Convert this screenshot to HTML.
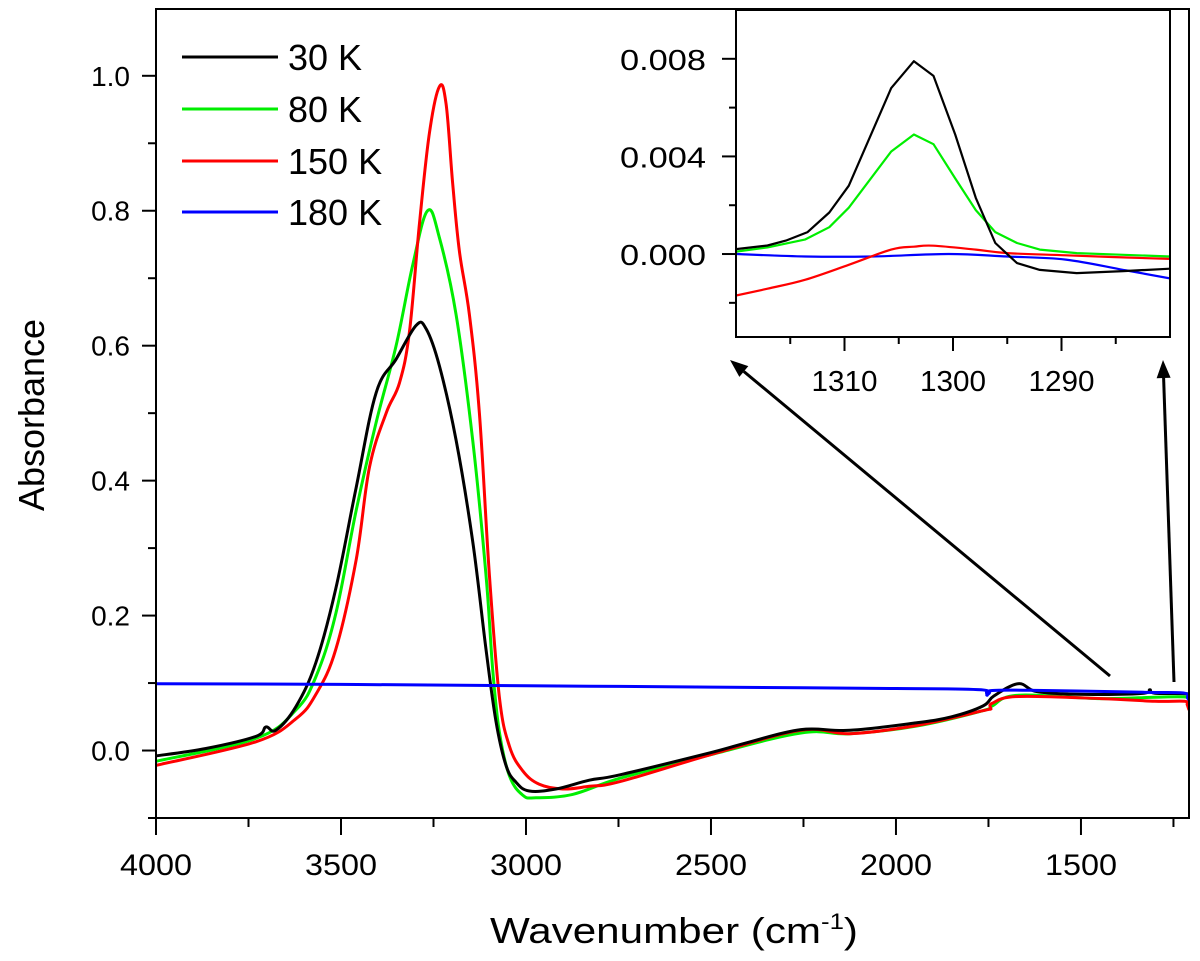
<!DOCTYPE html>
<html><head><meta charset="utf-8"><style>
html,body{margin:0;padding:0;background:#fff;}
svg{display:block;font-family:"Liberation Sans",Arial,sans-serif;}
</style></head><body>
<svg id="chart" width="1200" height="961" viewBox="0 0 1200 961" xmlns="http://www.w3.org/2000/svg">
<g id="main"></g>
<g id="inset"></g>
<g id="arrows"></g>
</svg>
<script>
// ---- Main chart data ----
const w30 = [4000,3865,3730,3703,3676,3622,3568,3514,3459,3405,3351,3297,3270,3234,3189,3144,3108,3081,3054,3027,2991,2919,2829,2746,2500,2400,2257,2124,1946,1850,1765,1735,1670,1625,1550,1446,1330,1314,1300,1213,1208];
const a30 = [-0.008,0.003,0.021,0.035,0.030,0.065,0.13,0.24,0.39,0.53,0.58,0.63,0.625,0.57,0.46,0.31,0.15,0.043,-0.022,-0.047,-0.06,-0.057,-0.044,-0.036,-0.003,0.012,0.031,0.030,0.041,0.05,0.066,0.081,0.099,0.088,0.084,0.083,0.085,0.09,0.085,0.084,0.078];
const w80 = [4000,3730,3622,3568,3514,3459,3405,3351,3306,3266,3234,3189,3144,3108,3090,3072,3045,3009,2973,2874,2746,2500,2257,2124,1946,1765,1740,1670,1446,1300,1213,1208];
const a80 = [-0.016,0.018,0.06,0.109,0.203,0.356,0.486,0.60,0.72,0.80,0.76,0.646,0.46,0.26,0.12,0.028,-0.037,-0.066,-0.07,-0.065,-0.041,-0.006,0.026,0.025,0.036,0.059,0.066,0.082,0.077,0.079,0.079,0.07];
const w150 = [4000,3730,3622,3568,3514,3459,3423,3378,3342,3315,3288,3261,3234,3216,3198,3180,3153,3126,3099,3072,3045,3009,2964,2901,2829,2746,2500,2257,2124,1946,1765,1745,1740,1670,1446,1300,1220,1213,1208];
const a150 = [-0.022,0.013,0.047,0.083,0.15,0.283,0.42,0.50,0.545,0.62,0.78,0.915,0.984,0.958,0.84,0.74,0.646,0.50,0.26,0.08,0.007,-0.03,-0.05,-0.057,-0.053,-0.046,-0.006,0.030,0.025,0.037,0.059,0.062,0.07,0.08,0.077,0.073,0.073,0.068,0.06];
const w180 = [4000,3500,3000,2746,2500,2000,1770,1754,1740,1600,1400,1300,1220,1212,1208];
const a180 = [0.099,0.098,0.096,0.095,0.094,0.092,0.090,0.082,0.089,0.089,0.087,0.086,0.085,0.078,0.075];
const xTicks = [4000,3500,3000,2500,2000,1500];
const xTickLabels = ["4000","3500","3000","2500","2000","1500"];
const yTicks = [0.0,0.2,0.4,0.6,0.8,1.0];
const yTickLabels = ["0.0","0.2","0.4","0.6","0.8","1.0"];
const legendLabels = ["30 K","80 K","150 K","180 K"];
const seriesColors = ["#000000","#00ee00","#ff0000","#0000ff"];

// ---- Inset data ----
const iw30 = [1320,1317.1,1315.4,1313.4,1311.4,1309.6,1305.7,1303.6,1301.8,1299.8,1297.9,1296.1,1294.1,1292,1288.6,1284.3,1280];
const ia30 = [0.0002,0.00035,0.00055,0.0009,0.0017,0.0028,0.0068,0.0079,0.0073,0.0049,0.0023,0.00045,-0.00037,-0.00065,-0.00078,-0.0007,-0.0006];
const iw80 = [1320,1317.1,1313.6,1311.4,1309.6,1305.7,1303.6,1301.8,1299.8,1297.9,1296.1,1294.1,1292,1288.6,1284.3,1280];
const ia80 = [0.0001,0.00027,0.0006,0.0011,0.0019,0.0042,0.0049,0.0045,0.0031,0.0018,0.0009,0.00045,0.00018,0.00004,-0.00003,-0.0001];
const iw150 = [1320,1317.1,1313.6,1309.6,1305.7,1303.6,1301.8,1297.9,1295,1289.6,1284.3,1280];
const ia150 = [-0.0017,-0.00142,-0.00105,-0.00044,0.00018,0.0003,0.00034,0.00018,0.00004,-0.00005,-0.00014,-0.0002];
const iw180 = [1320,1313.6,1307.5,1300.4,1295,1289.6,1284.3,1280];
const ia180 = [0,-0.0001,-0.0001,0,-0.0001,-0.00023,-0.00065,-0.001];
const ixTicks = [1310,1300,1290];
const ixTickLabels = ["1310","1300","1290"];
const iyTicks = [0.000,0.004,0.008];
const iyTickLabels = ["0.000","0.004","0.008"];

const NS="http://www.w3.org/2000/svg";
function mk(parent,tag,attrs){const e=document.createElementNS(NS,tag);for(const k in attrs)e.setAttribute(k,attrs[k]);parent.appendChild(e);return e;}

function smoothPath(pts,straight){
  if(straight){return pts.map((p,i)=>(i?'L':'M')+p[0].toFixed(1)+','+p[1].toFixed(1)).join('');}
  let d='M'+pts[0][0].toFixed(1)+','+pts[0][1].toFixed(1);
  for(let i=0;i<pts.length-1;i++){
    const p0=pts[i-1]||pts[i],p1=pts[i],p2=pts[i+1],p3=pts[i+2]||p2;
    const t=0.18;
    const c1=[p1[0]+(p2[0]-p0[0])*t,p1[1]+(p2[1]-p0[1])*t];
    const c2=[p2[0]-(p3[0]-p1[0])*t,p2[1]-(p3[1]-p1[1])*t];
    d+='C'+c1[0].toFixed(1)+','+c1[1].toFixed(1)+' '+c2[0].toFixed(1)+','+c2[1].toFixed(1)+' '+p2[0].toFixed(1)+','+p2[1].toFixed(1);
  }
  return d;
}

// main axes
const L=156,R=1189,T=9,B=818;
const X0=4000,X1=1208,Y0=-0.1,Y1=1.099;
const sx=w=>L+(X0-w)/(X0-X1)*(R-L);
const sy=v=>B-(v-Y0)/(Y1-Y0)*(B-T);
const main=document.getElementById('main');

function series(g,ws,as,fx,fy,color,width,name,straight){
  const pts=ws.map((w,i)=>[fx(w),fy(as[i])]);
  const p=mk(g,'path',{d:smoothPath(pts,straight),fill:'none',stroke:color,'stroke-width':width,'stroke-linejoin':'round'});
  
  
  return p;
}
const mainClip=mk(main,'clipPath',{id:'mc'});mk(mainClip,'rect',{x:L,y:T,width:R-L,height:B-T});
const mg=mk(main,'g',{'clip-path':'url(#mc)'});
series(mg,w80,a80,sx,sy,seriesColors[1],3,'series-80k');
series(mg,w150,a150,sx,sy,seriesColors[2],3,'series-150k');
series(mg,w30,a30,sx,sy,seriesColors[0],3,'series-30k');
series(mg,w180,a180,sx,sy,seriesColors[3],3,'series-180k');

const frame=mk(main,'rect',{x:L,y:T,width:R-L,height:B-T,fill:'none',stroke:'#000','stroke-width':2});



for(let w=4000;w>=1250;w-=250){
  const major=(w%500===0);
  const t=mk(main,'line',{x1:sx(w),x2:sx(w),y1:B,y2:B+(major?17:9),stroke:'#000','stroke-width':2});
  
  
}
xTicks.forEach((w,i)=>{
  const t=mk(main,'text',{x:sx(w),y:875,'text-anchor':'middle','font-size':30,textLength:72,lengthAdjust:'spacingAndGlyphs'});
  t.textContent=xTickLabels[i];
  
  
});
for(let k=-1;k<=10;k++){
  const v=k/10;const major=(k%2===0);
  const t=mk(main,'line',{x1:L,x2:L-(major?14:8),y1:sy(v),y2:sy(v),stroke:'#000','stroke-width':2});
  
  
}
yTicks.forEach((v,i)=>{
  const t=mk(main,'text',{x:130,y:sy(v)+10,'text-anchor':'end','font-size':28});
  t.textContent=yTickLabels[i];
  
  
});
const xt=mk(main,'text',{x:674,y:943,'text-anchor':'middle','font-size':36,textLength:368,lengthAdjust:'spacingAndGlyphs'});
xt.innerHTML='Wavenumber (cm<tspan dy="-14" font-size="22">-1</tspan><tspan dy="14">)</tspan>';


const yt=mk(main,'text',{x:0,y:0,'text-anchor':'middle','font-size':36,transform:'translate(44,415) rotate(-90)'});
yt.textContent='Absorbance';



// legend
const legY=[57,109,161,212];
legendLabels.forEach((lab,i)=>{
  const g=mk(main,'g',{});
  
  
  mk(g,'line',{x1:182,x2:278,y1:legY[i],y2:legY[i],stroke:seriesColors[i],'stroke-width':3});
  const t=mk(g,'text',{x:288,y:legY[i]+13,'font-size':36});
  t.textContent=lab;
});

// inset
const inset=document.getElementById('inset');
const IL=736,IR=1170,IT=10,IB=337;
const IX0=1320,IX1=1280,IY0=-0.0034,IY1=0.01;
const isx=w=>IL+(IX0-w)/(IX0-IX1)*(IR-IL);
const isy=v=>IB-(v-IY0)/(IY1-IY0)*(IB-IT);
const ibg=mk(inset,'rect',{x:IL,y:IT,width:IR-IL,height:IB-IT,fill:'#fff'});


const ic=mk(inset,'clipPath',{id:'ic'});mk(ic,'rect',{x:IL,y:IT,width:IR-IL,height:IB-IT});
const ig=mk(inset,'g',{'clip-path':'url(#ic)'});
series(ig,iw180,ia180,isx,isy,seriesColors[3],2.2,'inset-series-180k',false);
series(ig,iw150,ia150,isx,isy,seriesColors[2],2.2,'inset-series-150k',false);
series(ig,iw80,ia80,isx,isy,seriesColors[1],2.2,'inset-series-80k',true);
series(ig,iw30,ia30,isx,isy,seriesColors[0],2.2,'inset-series-30k',true);
const ifr=mk(inset,'rect',{x:IL,y:IT,width:IR-IL,height:IB-IT,fill:'none',stroke:'#000','stroke-width':2});


for(let w=1315;w>=1285;w-=5){
  const major=(w%10===0);
  const t=mk(inset,'line',{x1:isx(w),x2:isx(w),y1:IB,y2:IB+(major?14:7),stroke:'#000','stroke-width':2});
  
  
}
ixTicks.forEach((w,i)=>{
  const t=mk(inset,'text',{x:isx(w),y:391,'text-anchor':'middle','font-size':29,textLength:66,lengthAdjust:'spacingAndGlyphs'});
  t.textContent=ixTickLabels[i];
  
  
});
for(let k=-2;k<=8;k+=2){
  const v=k/1000;const major=(k%4===0);
  const t=mk(inset,'line',{x1:IL,x2:IL-(major?14:7),y1:isy(v),y2:isy(v),stroke:'#000','stroke-width':2});
  
  
}
iyTicks.forEach((v,i)=>{
  const t=mk(inset,'text',{x:706,y:isy(v)+11,'text-anchor':'end','font-size':29,textLength:86,lengthAdjust:'spacingAndGlyphs'});
  t.textContent=iyTickLabels[i];
  
  
});

// arrows
const arrowsG=document.getElementById('arrows');
function arrow(x1,y1,x2,y2,name){
  const g=mk(arrowsG,'g',{});
  
  
  const a=Math.atan2(y2-y1,x2-x1),h=18,s=7;
  const bx=x2-h*Math.cos(a),by=y2-h*Math.sin(a);
  mk(g,'line',{x1,y1,x2:bx,y2:by,stroke:'#000','stroke-width':3});
  mk(g,'polygon',{points:`${x2},${y2} ${bx+s*Math.sin(a)},${by-s*Math.cos(a)} ${bx-s*Math.sin(a)},${by+s*Math.cos(a)}`,fill:'#000'});
}
arrow(1110,676,730,360,'zoom-arrow-left');
arrow(1174,682,1163,360,'zoom-arrow-right');
</script>
</body></html>
